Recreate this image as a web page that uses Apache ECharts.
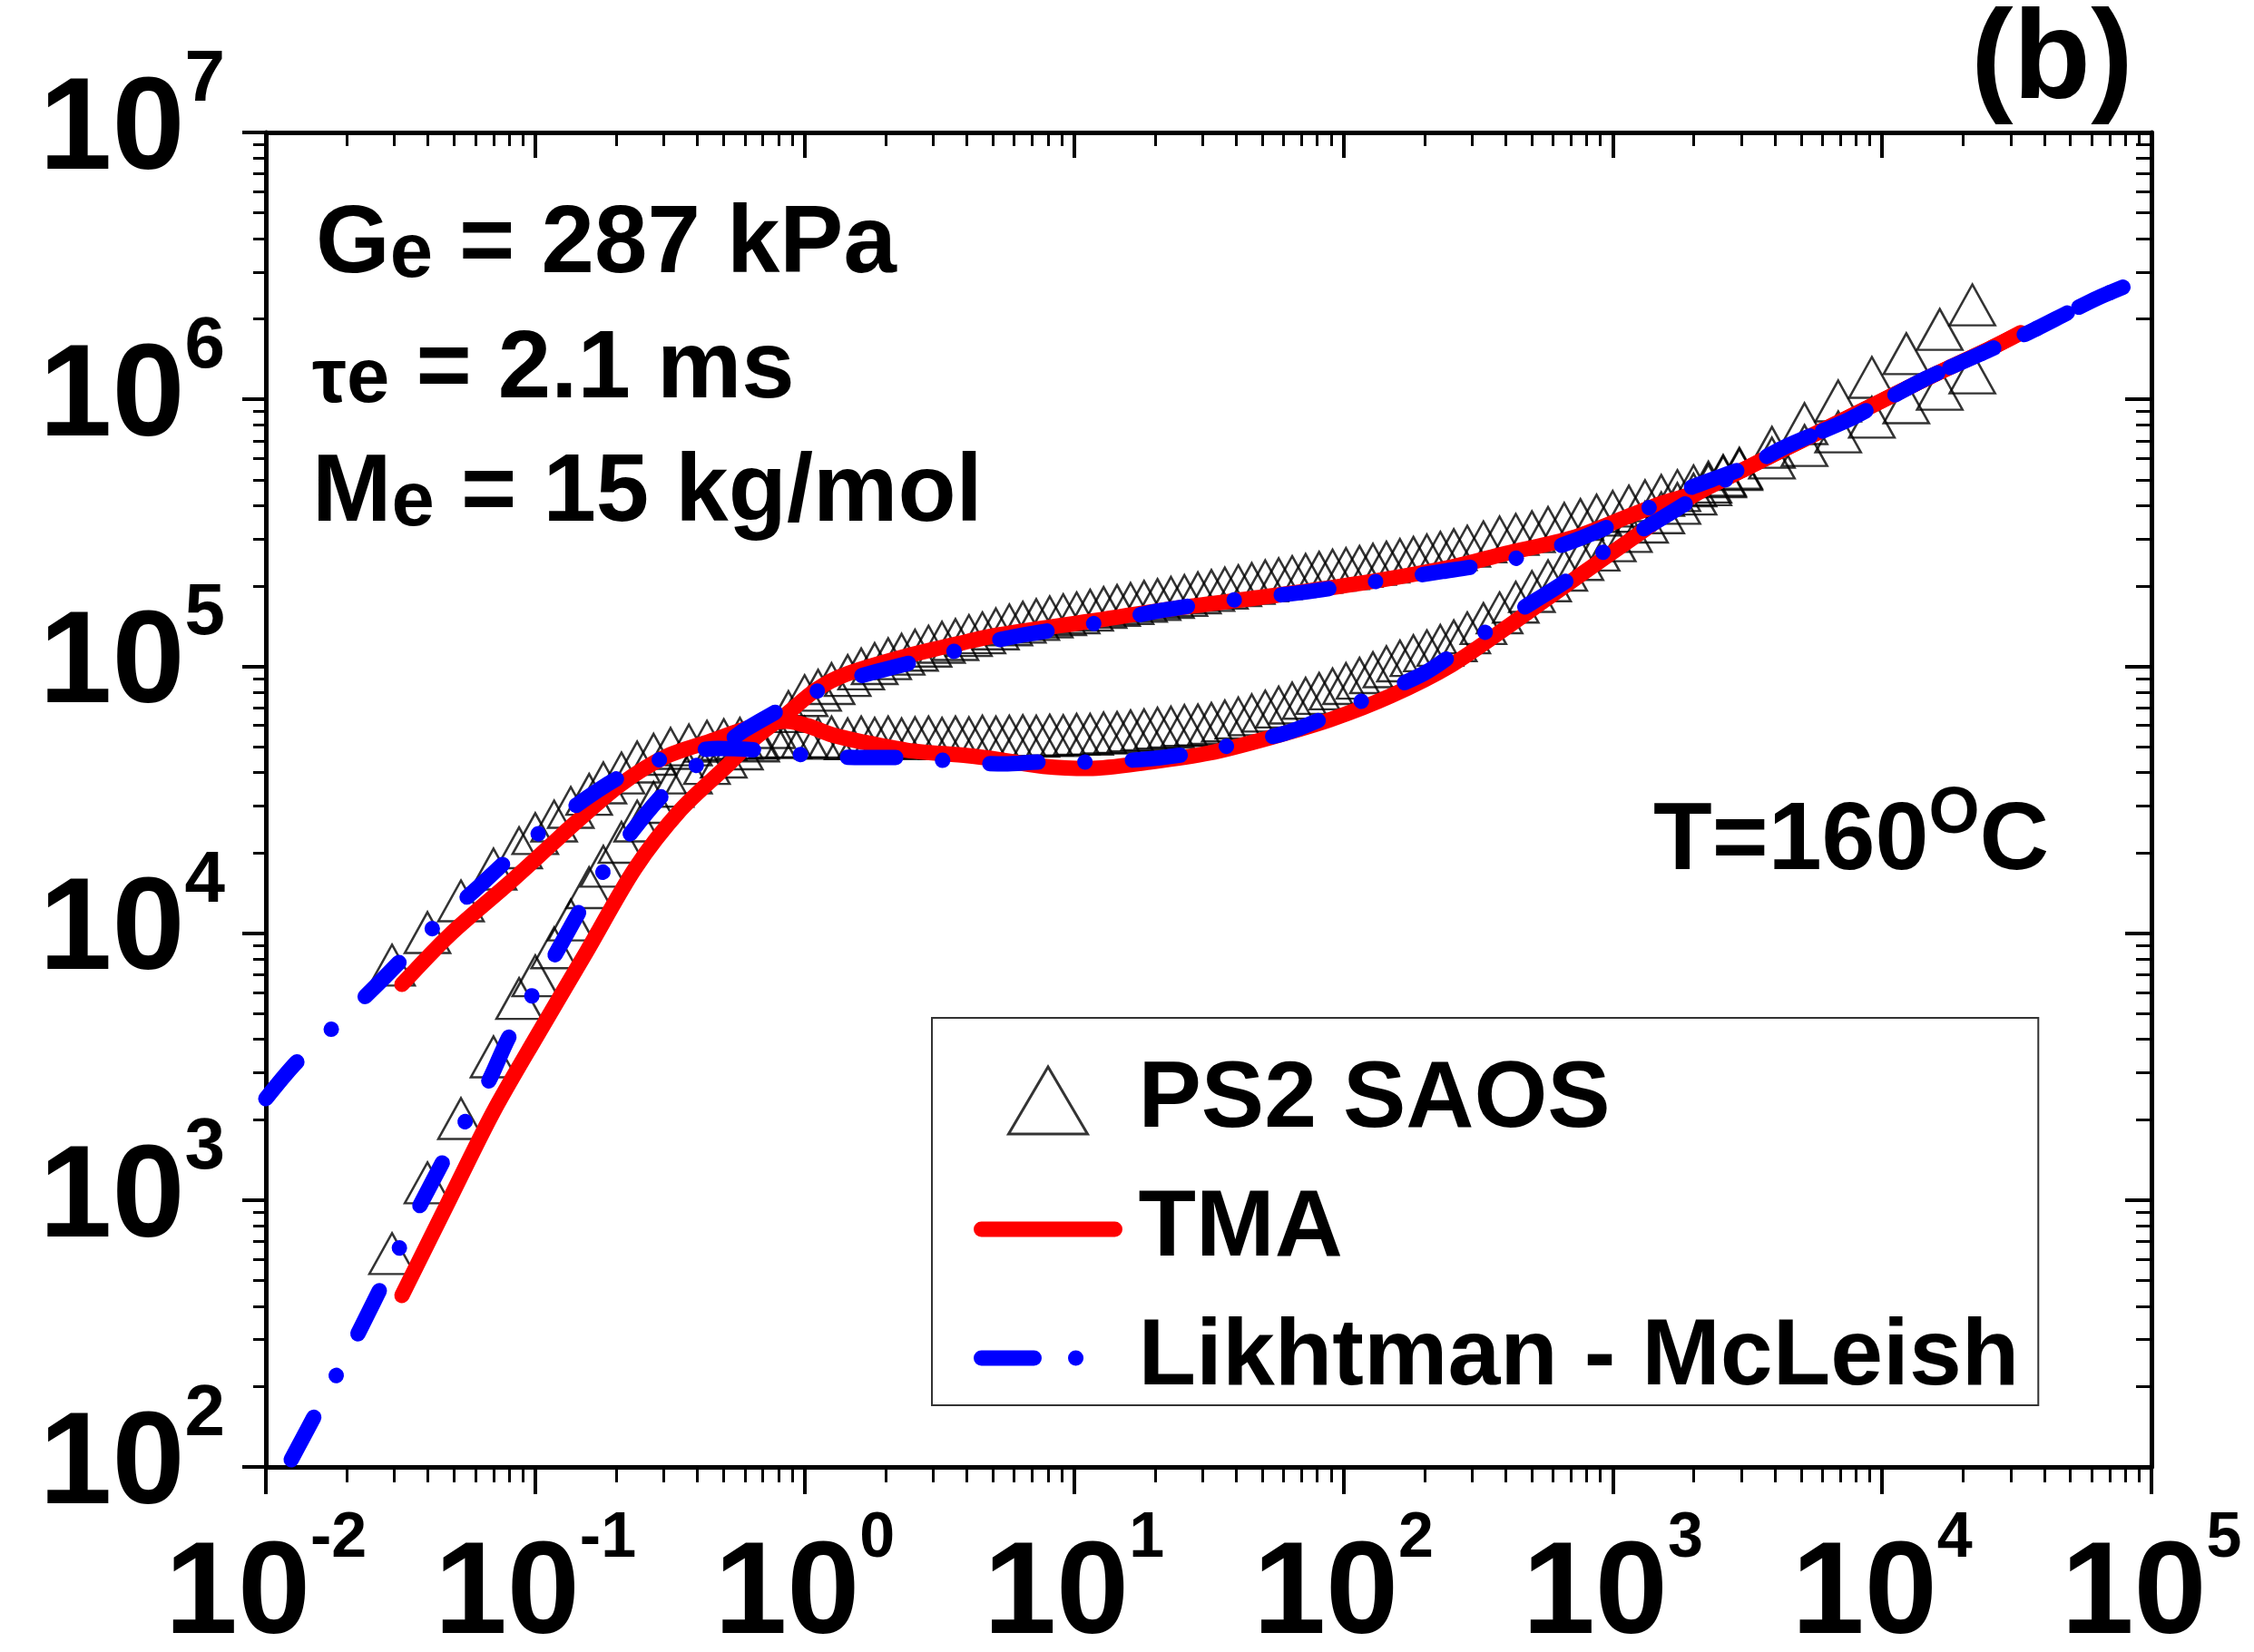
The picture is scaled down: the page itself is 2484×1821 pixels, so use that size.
<!DOCTYPE html>
<html>
<head>
<meta charset="utf-8">
<script src="https://cdn.jsdelivr.net/npm/echarts@6/dist/echarts.min.js"></script>
<style>html,body{margin:0;padding:0;background:#fff}#c{width:2484px;height:1821px}</style>
</head>
<body>
<div id="c"></div>
<script>
const FONT = "'Liberation Sans', Arial, Helvetica, sans-serif";

// ---- PS2 SAOS data (angular frequency, rad/s) ----
const saosOmega = [0.0294, 0.0398, 0.0530, 0.0700, 0.0871, 0.100, 0.1175, 0.1355, 0.1585, 0.179, 0.209, 0.239, 0.275, 0.318, 0.372, 0.434, 0.501, 0.575, 0.661, 0.759, 0.871, 1.00,
  1.122, 1.259, 1.445, 1.622, 1.820, 2.042, 2.291, 2.570, 2.884, 3.236, 3.631, 4.074, 4.571, 5.129, 5.754, 6.457, 7.244, 8.128, 9.120, 10.23, 11.48, 12.88, 14.45, 16.22, 18.20, 20.42, 22.91, 25.70, 28.84, 32.36, 36.31, 40.74, 45.71, 51.29, 57.54, 64.57, 72.44, 81.28, 91.20, 102.3, 114.8, 128.8, 144.5, 162.2, 182.0, 204.2, 229.1, 257.0,
  288.4, 331.1, 380.2, 436.5, 501.2, 575.4, 660.7, 758.6, 871.0, 1000, 1148, 1318, 1514, 1738, 1995, 2265, 2570, 2951,
  3899, 5152, 6871, 9162, 12300, 16370, 21630];
// storage modulus G' (Pa)
const saosStorage = [630, 1160, 2020, 3440, 5690, 6920, 8810, 11200, 14800, 17800, 21900, 26300, 30900, 35500, 39800, 43200, 45700, 49000, 52500, 58900, 67600, 77600,
  81300, 86100, 92300, 97700, 102300, 106700, 110900, 114800, 118900, 123000, 125900, 130300, 133400, 138000, 142900, 146200, 149600, 153100, 156000, 158500, 162200, 166000, 169000, 171800, 175000, 177800, 181100, 184100, 188400, 192300, 196300, 200400, 204200, 208900, 212800, 216800, 220800, 224900, 229100, 232300, 236600, 241000, 245500, 251200, 255900, 261200, 267300, 273500,
  281800, 292400, 304800, 311900, 319200, 331100, 342800, 354800, 368100, 380200, 398100, 416900, 436500, 455000, 474200, 489800, 518800, 552100,
  602600, 671400, 755100, 857000, 970500, 1091000, 1256000];
// loss modulus G'' (Pa)
const saosLoss = [7590, 10050, 13210, 17380, 20890, 23600, 26300, 29580, 33110, 36560, 39810, 43750, 46770, 49200, 50700, 52360, 53090, 53700, 53700, 54330, 54080, 54330,
  53700, 54330, 53460, 54330, 53700, 54330, 53460, 53950, 54330, 53700, 54330, 53950, 54700, 54330, 54700, 54950, 54700, 55210, 54950, 55590, 55590, 56230, 56490, 57280, 57810, 58610, 59160, 59980, 60260, 61090, 62370, 63970, 65770, 67920, 70310, 72780, 75860, 79070, 82220, 86100, 90160, 94620, 99540, 104700, 109600, 114300, 119700, 124500,
  133400, 144500, 158500, 173800, 190500, 208900, 229100, 251200, 272300, 295100, 319900, 346700, 375800, 407400, 441600, 478600, 512900, 545800,
  660700, 811000, 986300, 1208000, 1483000, 1828000, 2259000];

// ---- TMA model ----
const tmaOmegaStorage = [0.0320, 0.0472, 0.0695, 0.1023, 0.155, 0.235, 0.346, 0.511, 0.659, 0.857, 1.107, 1.432, 2.404, 4.046, 5.224, 11.35, 24.66, 53.58, 116.1, 252.3, 401.8, 707.9, 1191, 1538, 1995, 3090, 3981, 6310, 10000, 15850, 25120, 32660];
const tmaStorage = [439, 968, 2118, 4178, 8511, 17500, 28910, 42070, 54080, 66220, 81850, 93540, 109400, 123900, 130900, 147200, 165600, 183200, 204600, 235500, 264900, 302700, 370700, 409300, 444600, 548300, 623700, 785200, 988600, 1245000, 1549000, 1774000];
const tmaOmegaLoss = [0.0320, 0.0483, 0.0805, 0.1143, 0.1396, 0.2061, 0.3034, 0.4467, 0.659, 0.857, 1.026, 1.265, 1.596, 2.404, 4.046, 5.224, 7.691, 11.35, 19.10, 31.84, 53.58, 89.95, 150.0, 252.3, 424.6, 707.9, 1191, 1995, 3090, 3981, 6310, 10000, 15850, 25120, 32660];
const tmaLoss = [6427, 9886, 15490, 21380, 25700, 35890, 45710, 52360, 59840, 62230, 59840, 55340, 52360, 48420, 46240, 44770, 42170, 41400, 43750, 47320, 54080, 63240, 77450, 101200, 144900, 209400, 302700, 436500, 548300, 623700, 785200, 988600, 1245000, 1549000, 1774000];

// ---- Likhtman - McLeish model ----
const lmOmegaStorage = [0.01242, 0.01496, 0.01683, 0.01888, 0.02275, 0.02786, 0.03459, 0.04198, 0.05093, 0.06683, 0.07925, 0.09705, 0.1262, 0.1556, 0.1963, 0.2891, 0.3981, 0.5129, 0.5957, 0.9705, 1.324, 1.862, 3.206, 4.477, 6.442, 10.50, 14.89, 21.09, 35.48, 49.55, 71.29, 118.9, 164.8, 233.3, 299.2, 401.8, 548.3, 765.6, 1256, 1754, 2344, 3090, 4345, 7482, 10440, 14590, 24490, 34750, 50120, 63100, 82790];
const lmStorage = [106.4, 151.4, 190.5, 234.4, 338.8, 512.9, 820.4, 1197, 1726, 2761, 4018, 5808, 9290, 13520, 19540, 31990, 42660, 51290, 57540, 75680, 86500, 95720, 110200, 121100, 130900, 141600, 150700, 161800, 175000, 182000, 189200, 204600, 214300, 226500, 235500, 248900, 269200, 302700, 376700, 447700, 501200, 555900, 662200, 837500, 1002000, 1199000, 1517000, 1774000, 2138000, 2399000, 2692000];
const lmOmegaLoss = [0.01, 0.01291, 0.01845, 0.02698, 0.04266, 0.06138, 0.08974, 0.1429, 0.2042, 0.2917, 0.4797, 0.6855, 1.0, 1.622, 2.280, 3.206, 5.521, 7.586, 10.74, 18.07, 25.23, 36.31, 61.09, 83.95, 122.7, 200.0, 279.3, 411.1, 676.1, 928.9, 1358, 2265, 3090, 4345, 7482, 10440, 14590, 24490, 34750, 50120, 63100, 82790];
const lmLoss = [2399, 3258, 4592, 6683, 10690, 14860, 21130, 30270, 38280, 44770, 49200, 48420, 46560, 45500, 45500, 44460, 43050, 43750, 43750, 44770, 46560, 50000, 56230, 63680, 75680, 94190, 118300, 153100, 209400, 269200, 335000, 458100, 548300, 662200, 837500, 1002000, 1199000, 1517000, 1774000, 2138000, 2399000, 2692000];

// ---- axes ----
const xRange = [0.01, 100000];
const yRange = [100, 10000000];
const legendNames = ['PS2 SAOS', 'TMA', 'Likhtman - McLeish'];

function pairs(xs, ys) { return xs.map(function (x, i) { return [x, ys[i]]; }); }
function expOf(v) { return Math.round(Math.log10(v)); }
function tickLabel(v) { return '{b|10}{s|' + expOf(v) + '}'; }

const black = '#000';
const lineW = 5;
function baseAxis(extra) {
  return Object.assign({
    type: 'log', logBase: 10,
    splitLine: { show: false },
    axisPointer: { show: false },
    axisLine: { show: true, onZero: false, lineStyle: { color: black, width: lineW } }
  }, extra);
}

const chart = echarts.init(document.getElementById('c'), null, { renderer: 'canvas', width: 2484, height: 1821 });

const smallRich = {
  a: { fontSize: 105, fontWeight: 'bold', fontFamily: FONT, fill: black, lineHeight: 112.8, verticalAlign: 'bottom' },
  s: { fontSize: 85, fontWeight: 'bold', fontFamily: FONT, fill: black, lineHeight: 108.9, verticalAlign: 'bottom' }
};

const option = {
  animation: false,
  backgroundColor: '#fff',
  grid: { left: 293, right: 113, top: 146, bottom: 204, containLabel: false, outerBoundsMode: 'none' },
  xAxis: [
    baseAxis({
      min: xRange[0], max: xRange[1], splitNumber: 7, position: 'bottom',
      axisTick: { show: true, inside: false, length: 30, lineStyle: { color: black, width: 4 } },
      minorTick: { show: true, splitNumber: 9, length: 17, lineStyle: { color: black, width: 3 } },
      axisLabel: {
        show: true, margin: 45, formatter: tickLabel,
        rich: {
          b: { fontSize: 144, fontWeight: 'bold', fontFamily: FONT, color: black, lineHeight: 196, verticalAlign: 'middle' },
          s: { fontSize: 70, fontWeight: 'bold', fontFamily: FONT, color: black, lineHeight: 24, verticalAlign: 'top' }
        }
      }
    }),
    baseAxis({
      min: xRange[0], max: xRange[1], splitNumber: 7, position: 'top',
      axisTick: { show: true, inside: true, length: 28, lineStyle: { color: black, width: 4 } },
      minorTick: { show: true, splitNumber: 9, length: 15, lineStyle: { color: black, width: 3 } },
      axisLabel: { show: false }
    })
  ],
  yAxis: [
    baseAxis({
      min: yRange[0], max: yRange[1], splitNumber: 5, position: 'left',
      axisTick: { show: true, inside: false, length: 26, lineStyle: { color: black, width: 4 } },
      minorTick: { show: true, splitNumber: 9, length: 14, lineStyle: { color: black, width: 3 } },
      axisLabel: {
        show: true, margin: 45, formatter: tickLabel,
        rich: {
          b: { fontSize: 144, fontWeight: 'bold', fontFamily: FONT, color: black, lineHeight: 194, verticalAlign: 'middle' },
          s: { fontSize: 80, fontWeight: 'bold', fontFamily: FONT, color: black, lineHeight: 41, verticalAlign: 'top' }
        }
      }
    }),
    baseAxis({
      min: yRange[0], max: yRange[1], splitNumber: 5, position: 'right',
      axisTick: { show: true, inside: true, length: 29, lineStyle: { color: black, width: 4 } },
      minorTick: { show: true, splitNumber: 9, length: 17, lineStyle: { color: black, width: 3 } },
      axisLabel: { show: false }
    })
  ],
  legend: {
    orient: 'vertical', left: 1027, top: 1122,
    padding: [39, 21, 0, 46],
    itemGap: 38, itemWidth: 147, itemHeight: 78,
    borderColor: '#333', borderWidth: 2, backgroundColor: '#fff',
    selectedMode: false,
    textStyle: { fontSize: 104, fontWeight: 'bold', fontFamily: FONT, color: black, lineHeight: 100, padding: [0, 0, 0, 21] },
    data: [
      { name: legendNames[0], icon: 'path://M0,0ZM147,78ZM30,76L73.5,2L117,76Z', itemStyle: { color: 'rgba(0,0,0,0)', borderColor: black, borderWidth: 3 } },
      { name: legendNames[1], itemStyle: { opacity: 0 }, lineStyle: { width: 17, color: '#ff0000', cap: 'round' } },
      { name: legendNames[2], itemStyle: { opacity: 0 }, lineStyle: { width: 17, color: '#0000ff', type: [58, 46, 0.1, 400], cap: 'round' } }
    ]
  },
  graphic: [
    { type: 'text', x: 348, y: 211, silent: true,
      style: { text: '{a|G}{s|e}{a| = 287 kPa}', fill: black, align: 'left', verticalAlign: 'top', rich: smallRich } },
    { type: 'text', x: 344, y: 349, silent: true,
      style: { text: '{s|\u03c4e}{a| = 2.1 ms}', fill: black, align: 'left', verticalAlign: 'top', rich: smallRich } },
    { type: 'text', x: 344, y: 485, silent: true,
      style: { text: '{a|M}{s|e}{a| = 15 kg/mol}', fill: black, align: 'left', verticalAlign: 'top', rich: smallRich } },
    {
      type: 'text', x: 1822, y: 862, silent: true,
      style: {
        text: '{m|T=160}{o|O}{m|C}', fill: black, align: 'left', verticalAlign: 'top',
        rich: {
          m: { fontSize: 106, fontWeight: 'bold', fontFamily: FONT, fill: black, lineHeight: 120, verticalAlign: 'bottom' },
          o: { fontSize: 72, fontWeight: 'bold', fontFamily: FONT, fill: black, lineHeight: 61.6, verticalAlign: 'top' }
        }
      }
    },
    {
      type: 'text', x: 2172, y: -6, silent: true,
      style: {
        text: '{p|(b)}', fill: black, align: 'left', verticalAlign: 'top',
        rich: { p: { fontSize: 140, fontWeight: 'bold', fontFamily: FONT, fill: black, lineHeight: 150 } }
      }
    }
  ],
  series: [
    {
      name: legendNames[0], type: 'scatter', xAxisIndex: 0, yAxisIndex: 0, silent: true, z: 2,
      data: pairs(saosOmega, saosStorage),
      symbol: 'triangle', symbolSize: [50, 45],
      itemStyle: { color: 'rgba(0,0,0,0)', borderColor: black, borderWidth: 2.5 }
    },
    {
      name: legendNames[0], type: 'scatter', xAxisIndex: 0, yAxisIndex: 0, silent: true, z: 2,
      data: pairs(saosOmega, saosLoss),
      symbol: 'triangle', symbolSize: [50, 45],
      itemStyle: { color: 'rgba(0,0,0,0)', borderColor: black, borderWidth: 2.5 }
    },
    {
      name: legendNames[1], type: 'line', xAxisIndex: 0, yAxisIndex: 0, silent: true, z: 3,
      data: pairs(tmaOmegaStorage, tmaStorage),
      symbol: 'none', showSymbol: false, smooth: 0.3,
      itemStyle: { color: '#ff0000' },
      lineStyle: { color: '#ff0000', width: 17, cap: 'round', join: 'round' }
    },
    {
      name: legendNames[1], type: 'line', xAxisIndex: 0, yAxisIndex: 0, silent: true, z: 3,
      data: pairs(tmaOmegaLoss, tmaLoss),
      symbol: 'none', showSymbol: false, smooth: 0.3,
      itemStyle: { color: '#ff0000' },
      lineStyle: { color: '#ff0000', width: 17, cap: 'round', join: 'round' }
    },
    {
      name: legendNames[2], type: 'line', xAxisIndex: 0, yAxisIndex: 0, silent: true, z: 4,
      data: pairs(lmOmegaStorage, lmStorage),
      symbol: 'none', showSymbol: false, smooth: 0.3,
      itemStyle: { color: '#0000ff' },
      lineStyle: { color: '#0000ff', width: 17, type: [53, 52, 0.1, 52], cap: 'round', join: 'round' }
    },
    {
      name: legendNames[2], type: 'line', xAxisIndex: 0, yAxisIndex: 0, silent: true, z: 4,
      data: pairs(lmOmegaLoss, lmLoss),
      symbol: 'none', showSymbol: false, smooth: 0.3,
      itemStyle: { color: '#0000ff' },
      lineStyle: { color: '#0000ff', width: 17, type: [53, 52, 0.1, 52], cap: 'round', join: 'round' }
    }
  ]
};
chart.setOption(option);
</script>
</body>
</html>
